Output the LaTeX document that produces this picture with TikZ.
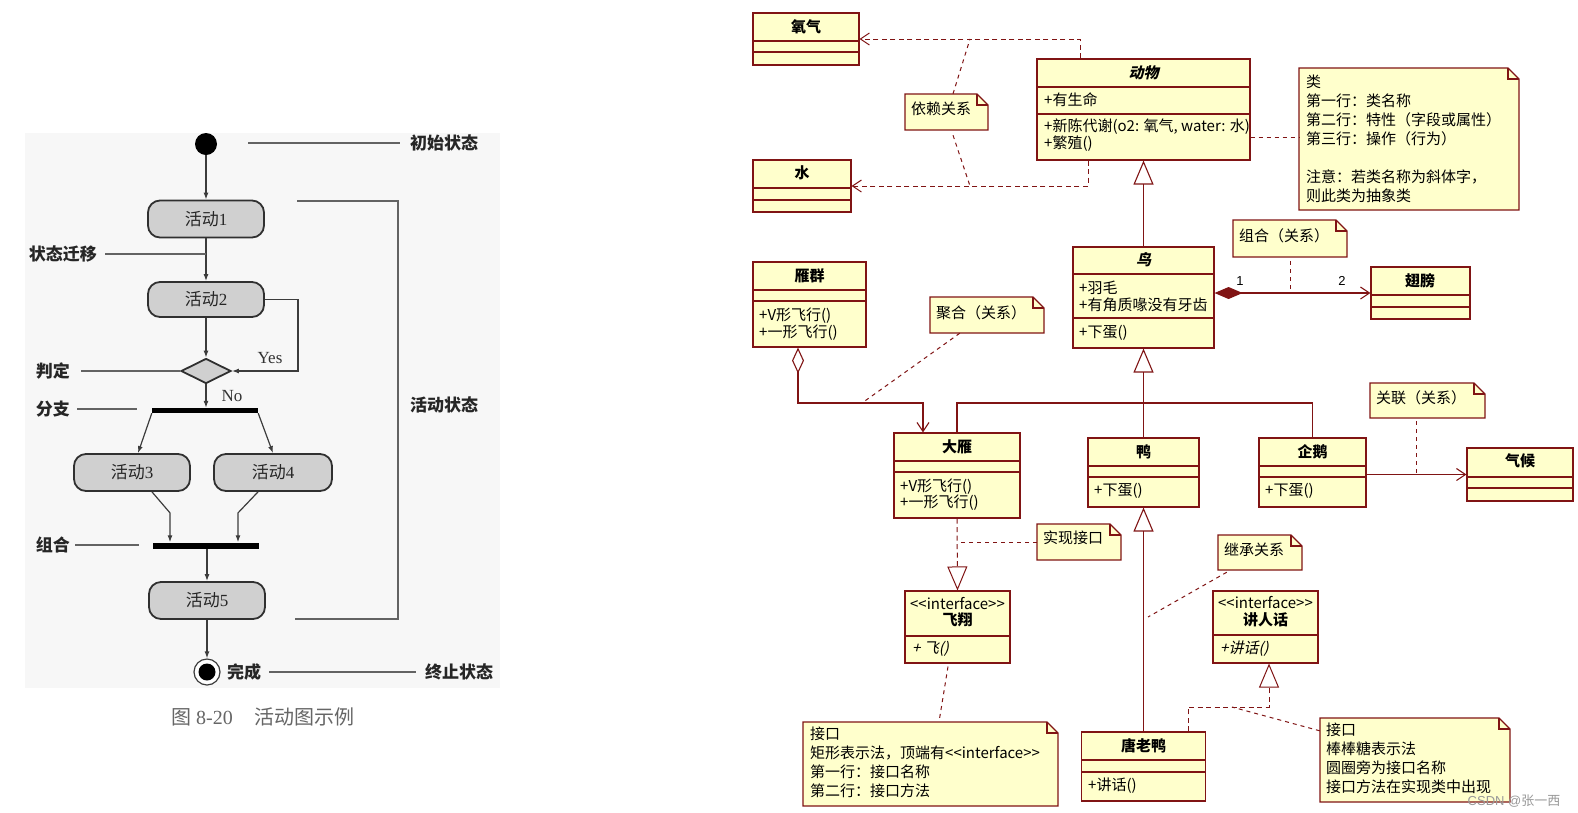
\documentclass[tikz,border=0pt]{standalone}
\usepackage{fontspec}
\setmainfont{Liberation Serif}
\newfontfamily\cjk{Noto Sans CJK SC}[AutoFakeSlant=0.2]
\newfontfamily\cjksl{Noto Sans CJK SC}[FakeSlant=0.22]
\newfontfamily\lsans{Liberation Sans}
\usetikzlibrary{arrows.meta,shapes.geometric}
\definecolor{umlred}{RGB}{128,20,20}
\definecolor{umlyel}{RGB}{255,255,204}
\definecolor{actgray}{RGB}{208,208,208}
\definecolor{inkgray}{RGB}{60,60,60}
\newcommand{\umlcls}[7]{%
  \pgfmathsetmacro{\bxw}{#4-#2}\pgfmathsetmacro{\bxh}{#5-#3}%
  \pgfmathsetmacro{\bxc}{(#2+#4)/2}\pgfmathsetmacro{\byc}{(#3+#5)/2}%
  \node[cls, minimum width=\bxw pt, minimum height=\bxh pt] (#1) at (\bxc,\byc) {};
  \draw[cline] (#2,#6) -- (#4,#6);
  \draw[cline] (#2,#7) -- (#4,#7);
}
\newcommand{\umlnote}[5]{%
  \pgfmathsetmacro{\bxw}{#4-#2}\pgfmathsetmacro{\bxh}{#5-#3}%
  \pgfmathsetmacro{\bxc}{(#2+#4)/2}\pgfmathsetmacro{\byc}{(#3+#5)/2}%
  \draw[cline, fill=umlyel] (#2,#3) -- (#4-11,#3) -- (#4,#3+11) -- (#4,#5) -- (#2,#5) -- cycle;
  \draw[cline] (#4-11,#3) -- (#4-11,#3+11) -- (#4,#3+11);
  \node[inner sep=0pt, minimum width=\bxw pt, minimum height=\bxh pt] (#1) at (\bxc,\byc) {};
}
\begin{document}
\begin{tikzpicture}[x=1pt,y=-1pt,
  cls/.style={draw=umlred, fill=umlyel, line width=1.1pt, inner sep=0pt, rectangle},
  cline/.style={draw=umlred, line width=1.1pt},
  ut/.style={font=\cjk\fontsize{15}{19}\selectfont, inner sep=0pt, text=black},
  ub/.style={font=\cjk\bfseries\fontsize{15}{19}\selectfont, inner sep=0pt, text=black},
  ubi/.style={font=\cjksl\bfseries\fontsize{15}{19}\selectfont, inner sep=0pt, text=black},
  uit/.style={font=\cjksl\fontsize{15}{19}\selectfont, inner sep=0pt, text=black},
  notetxt/.style={ut, align=left, anchor=north west},
  dep/.style={draw=umlred, line width=1pt, dash pattern=on 5pt off 3.5pt, -{Straight Barb[length=9pt,width=12pt]}},
  notel/.style={draw=umlred, line width=1pt, dash pattern=on 4pt off 4pt},
  gen/.style={draw=umlred, line width=1.1pt, -{Triangle[open,length=24pt,width=20pt]}},
  real/.style={draw=umlred, line width=1pt, dash pattern=on 5pt off 3.5pt, -{Triangle[open,length=24pt,width=20pt]}},
  comp/.style={draw=umlred, line width=1.1pt, {Diamond[length=28pt,width=12pt,fill=umlred]}-{Straight Barb[length=9pt,width=12pt]}},
  aggr/.style={draw=umlred, line width=1.1pt, {Diamond[open,length=26pt,width=12pt]}-{Straight Barb[length=9pt,width=12pt]}},
  assoc/.style={draw=umlred, line width=1.1pt},
  assocarr/.style={assoc, -{Straight Barb[length=9pt,width=12pt]}},
  act/.style={draw=inkgray!80!black, fill=actgray, line width=1.8pt, rounded corners=12pt, minimum width=116pt, minimum height=37pt, inner sep=0pt, font=\cjk\fontsize{17}{19}\selectfont, text=black!85},
  flow/.style={draw=inkgray, line width=1.2pt, -{Latex[length=7pt,width=5pt]}},
  lblline/.style={draw=inkgray!80, line width=1.1pt},
  lbl/.style={font=\cjk\bfseries\fontsize{17}{20}\selectfont, inner sep=0pt, text=black!85},
  bar/.style={fill=black, draw=none, minimum width=106pt, minimum height=6pt, inner sep=0pt}
]
\useasboundingbox (0,0) rectangle (1578,812);
\fill[white] (0,0) rectangle (1578,812);
\fill[black!3] (25,133) rectangle (500,688);

% ---------------- activity diagram ----------------
\node[circle, fill=black, minimum size=22pt, inner sep=0pt] (init) at (206,144) {};
\node[act] (a1) at (206,219) {活动\textrm{1}};
\node[act, minimum height=35pt] (a2) at (206,299.5) {活动\textrm{2}};
\node[diamond, draw=inkgray!80!black, fill=actgray, line width=1.8pt, minimum width=50pt, minimum height=25pt, inner sep=0pt, shape aspect=2] (dec) at (206,371) {};
\node[bar, minimum height=5pt] (fork) at (205,410.5) {};
\node[act] (a3) at (132,472.5) {活动\textrm{3}};
\node[act, minimum width=118pt] (a4) at (273,472.5) {活动\textrm{4}};
\node[bar] (join) at (205.5,545.5) {};
\node[act] (a5) at (207,600.5) {活动\textrm{5}};
\node[circle, draw=inkgray, line width=1.2pt, fill=white, minimum size=26pt, inner sep=0pt] (fin) at (207,672) {};
\node[circle, fill=black, minimum size=17pt, inner sep=0pt] (finin) at (207,672) {};

\draw[flow] (init) -- (a1);
\draw[flow] (a1) -- (a2);
\draw[flow] (a2) -- (dec);
\draw[flow] (dec.south) -- (dec.south |- fork.north);
\draw[flow] (a2.east) -- ++(33,0) |- (dec.east);
\draw[flow] (fork.south west) -- ([xshift=6pt]a3.north);
\draw[flow] (fork.south east) -- (a4.north);
\draw[flow] ([xshift=20pt]a3.south) -- ++(18,21) -- ([xshift=-35.5pt]join.north);
\draw[flow] ([xshift=-15pt]a4.south) -- ++(-20,21) -- ([xshift=32.5pt]join.north);
\draw[flow] (join.south -| a5.north) -- (a5.north);
\draw[flow] (a5) -- (fin);

\node[font=\fontsize{17}{20}\selectfont, inner sep=0pt, text=black!80] (yes) at (270,358) {Yes};
\node[font=\fontsize{17}{20}\selectfont, inner sep=0pt, text=black!80] (no) at (232,396) {No};

\node[lbl, anchor=west] (lchushi) at (410,143) {初始状态};
\coordinate (c1) at (248,143);
\draw[lblline] (c1) -- ([xshift=-10pt]lchushi.west);
\node[lbl, anchor=east] (lqianyi) at (97,254) {状态迁移};
\draw[lblline] ([xshift=8pt]lqianyi.east) -- (lqianyi.east -| a1.south);
\node[lbl, anchor=east] (lpanding) at (70,371) {判定};
\draw[lblline] ([xshift=11pt]lpanding.east) -- (dec.west);
\node[lbl, anchor=east] (lfenzhi) at (70,409) {分支};
\coordinate (fzend) at (137,409);
\draw[lblline] ([xshift=7pt]lfenzhi.east) -- (fzend);
\node[lbl, anchor=east] (lzuhe) at (70,545) {组合};
\coordinate (zhend) at (139,545);
\draw[lblline] ([xshift=5pt]lzuhe.east) -- (zhend);
\node[lbl, anchor=west] (lwancheng) at (227,672) {完成};
\node[lbl, anchor=west] (lzhongzhi) at (425,672) {终止状态};
\draw[lblline] ([xshift=8pt]lwancheng.east) -- ([xshift=-9pt]lzhongzhi.west);
\node[lbl, anchor=west] (lhuodong) at (410,405) {活动状态};
\coordinate (bk1) at (297,201);
\coordinate (bk2) at (295,619);
\draw[lblline] (bk1) -- ++(101,0) |- (bk2);

\node[font=\cjk\fontsize{20}{22}\selectfont, text=black!60, inner sep=0pt] (cap) at (263,717) {图\hspace{5pt}\textrm{8-20}\hspace{22pt}活动图示例};

% ---------------- class diagram ----------------
\umlcls{yangqi}{753}{13}{859}{65}{41}{52}
\node[ub] (t1) at (806,27) {氧气};
\umlcls{shui}{753}{160}{851}{212}{188}{200}
\node[ub] (t2) at (802,173) {水};

\umlcls{dongwu}{1037}{59}{1250}{160}{87}{114}
\node[ubi] (t3) at (1143.5,73) {动物};
\node[ut, anchor=west] (t4) at (1044,100) {+有生命};
\node[ut, anchor=west] (t5) at (1044,127) {+新陈代谢(o2: 氧气, water: 水)};
\node[ut, anchor=west] (t6) at (1044,144) {+繁殖()};

\umlnote{yilai}{905}{94}{988}{130}
\node[ut, anchor=west] (t7) at (911,109) {依赖关系};

\umlnote{lei}{1299}{68}{1519}{210}
\node[notetxt] (t8) at (1306,75) {类\\第一行：类名称\\第二行：特性（字段或属性）\\第三行：操作（行为）\\[19pt]注意：若类名称为斜体字，\\则此类为抽象类};

\umlcls{niao}{1073}{247}{1214}{348}{274}{318}
\node[ubi] (t9) at (1143.5,260) {鸟};
\node[ut, anchor=west] (t10) at (1079,288) {+羽毛};
\node[ut, anchor=west] (t11) at (1079,305) {+有角质喙没有牙齿};
\node[ut, anchor=west] (t12) at (1079,333) {+下蛋()};

\umlnote{zuhe}{1233}{220}{1347}{257}
\node[ut, anchor=west] (t13) at (1239,236) {组合（关系）};

\umlcls{chibang}{1371}{267}{1470}{319}{295}{307}
\node[ub] (t14) at (1420,281) {翅膀};

\umlcls{yanqun}{753}{262}{866}{347}{290}{301}
\node[ub] (t15) at (809.5,276) {雁群};
\node[ut, anchor=west] (t16) at (759,316) {+V形飞行()};
\node[ut, anchor=west] (t17) at (759,333) {+一形飞行()};

\umlnote{juhe}{930}{297}{1044}{333}
\node[ut, anchor=west] (t18) at (936,313) {聚合（关系）};

\umlcls{dayan}{894}{433}{1020}{518}{461}{472}
\node[ub] (t19) at (957,447) {大雁};
\node[ut, anchor=west] (t20) at (900,487) {+V形飞行()};
\node[ut, anchor=west] (t21) at (900,503) {+一形飞行()};

\umlcls{yazi}{1088}{438}{1199}{507}{466}{477}
\node[ub] (t22) at (1143.5,452) {鸭};
\node[ut, anchor=west] (t23) at (1094,491) {+下蛋()};

\umlcls{qie}{1259}{438}{1366}{507}{466}{477}
\node[ub] (t24) at (1312.5,452) {企鹅};
\node[ut, anchor=west] (t25) at (1265,491) {+下蛋()};

\umlnote{guanlian}{1370}{383}{1485}{418}
\node[ut, anchor=west] (t26) at (1376,398) {关联（关系）};

\umlcls{qihou}{1467}{448}{1573}{501}{477}{488}
\node[ub] (t27) at (1520,461) {气候};

\umlnote{shixian}{1037}{524}{1121}{560}
\node[ut, anchor=west] (t28) at (1043,538) {实现接口};

\umlcls{feixiang}{905}{591}{1010}{663}{636}{636}
\node[ut] (t29) at (957.5,604) {<{}<interface>{}>};
\node[ub] (t30) at (957.5,620) {飞翔};
\node[uit, anchor=west] (t31) at (912,649) {+ 飞()};

\umlnote{jiekou1}{803}{722}{1058}{806}
\node[notetxt] (t32) at (810,727) {接口\\矩形表示法，顶端有<{}<interface>{}>\\第一行：接口名称\\第二行：接口方法};

\umlnote{jicheng}{1218}{535}{1302}{570}
\node[ut, anchor=west] (t33) at (1224,550) {继承关系};

\umlcls{jianghua}{1213}{591}{1318}{663}{635}{635}
\node[ut] (t34) at (1265.5,603) {<{}<interface>{}>};
\node[ub] (t35) at (1265.5,620) {讲人话};
\node[uit, anchor=west] (t36) at (1220,649) {+讲话()};

\umlcls{tanglaoya}{1081.5}{732}{1205.5}{801}{760}{772}
\node[ub] (t37) at (1143.5,746) {唐老鸭};
\node[ut, anchor=west] (t38) at (1088,786) {+讲话()};

\umlnote{jiekou2}{1320}{718}{1510}{802}
\node[notetxt] (t39) at (1326,723) {接口\\棒棒糖表示法\\圆圈旁为接口名称\\接口方法在实现类中出现};

% connectors
\draw[dep] ([xshift=-63.5pt]dongwu.north) |- (yangqi.east);
\draw[dep] ([xshift=-55.5pt]dongwu.south) |- (shui.east);
\coordinate (yl1) at (970,39);
\coordinate (yl2) at (970,186);
\draw[notel] ([xshift=6.5pt]yilai.north) -- (yl1);
\draw[notel] ([xshift=6.5pt,yshift=-5pt]yilai.south) -- (yl2);
\coordinate (leiin) at (1299,137);
\draw[notel] (leiin -| dongwu.east) -- (leiin);

\draw[gen] (niao.north) -- (dongwu.south);
\draw[comp] (niao.east |- chibang.west) -- (chibang.west);
\node[font=\lsans\fontsize{13}{15}\selectfont, inner sep=0pt] (m1) at (1240,281) {1};
\node[font=\lsans\fontsize{13}{15}\selectfont, inner sep=0pt] (m2) at (1342,281) {2};
\draw[notel] ([yshift=-4pt]zuhe.south) -- (zuhe.south |- chibang.west);

\coordinate (aggc) at (923,403);
\draw[aggr] ([xshift=-11.5pt]yanqun.south) |- (aggc) -- (aggc |- dayan.north);
\coordinate (jhend) at (862,403);
\draw[notel] ([xshift=30pt]juhe.south west) -- (jhend);

\coordinate (bus) at (1143.5,403);
\draw[assoc] (dayan.north) |- (bus) -| (qie.north);
\draw[gen] (yazi.north) -- (niao.south);

\draw[assocarr] (qie.east |- qihou.west) -- (qihou.west);
\coordinate (glend) at (1416,475);
\draw[notel] ([xshift=-11.5pt,yshift=-3pt]guanlian.south) -- (glend);

\draw[real] (dayan.south) -- (feixiang.north);
\draw[notel] (shixian.west) -- (shixian.west -| dayan.south);
\draw[notel] ([xshift=-9.5pt,yshift=-3pt]feixiang.south) -- ([xshift=8.5pt]jiekou1.north);

\draw[gen] (tanglaoya.north) -- (yazi.south);
\coordinate (jcend) at (1148,617);
\draw[notel] ([xshift=9pt,yshift=-2pt]jicheng.south west) -- (jcend);
\coordinate (rcorner) at (1269,707);
\draw[real] ([xshift=44.5pt]tanglaoya.north) |- (rcorner) -- (rcorner |- jianghua.south);
\coordinate (jk2end) at (1232,707);
\draw[notel] ([yshift=-13pt]jiekou2.north west) -- (jk2end);

\node[font=\lsans\fontsize{13}{15}\selectfont, text=black!40, inner sep=0pt] (wm) at (1514,801) {CSDN @{\cjk 张一西}};
\end{tikzpicture}
\end{document}
